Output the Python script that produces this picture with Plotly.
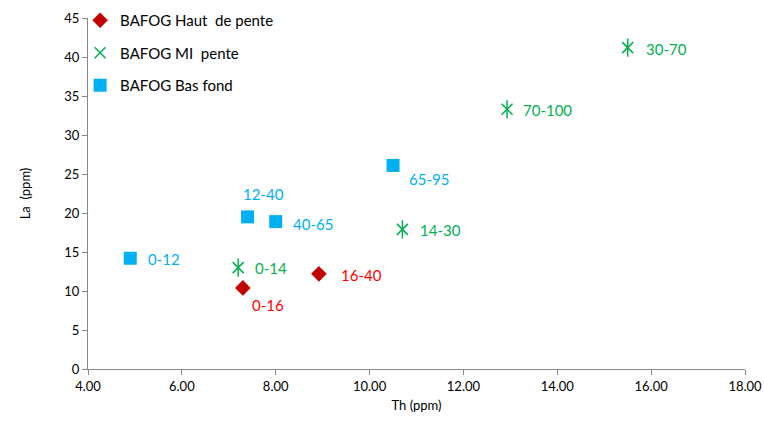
import plotly.graph_objects as go

# Th / La concentrations (ppm) per sampling depth interval (cm)
haut_th = [7.30, 8.92]
haut_la = [10.4, 12.2]
haut_lbl = ["0-16", "16-40"]

mi_th = [7.20, 10.70, 12.93, 15.50]
mi_la = [13.0, 17.9, 33.3, 41.2]
mi_lbl = ["0-14", "14-30", "70-100", "30-70"]

bas_th = [4.90, 7.40, 8.00, 10.50]
bas_la = [14.2, 19.5, 18.9, 26.1]
bas_lbl = ["0-12", "12-40", "40-65", "65-95"]

x_ticks = [4, 6, 8, 10, 12, 14, 16, 18]
y_ticks = [0, 5, 10, 15, 20, 25, 30, 35, 40, 45]

RED_DARK = "#C00000"
RED = "#FF0000"
GREEN = "#00B050"
BLUE = "#00B0F0"
FONT = "Lato, Open Sans, sans-serif"

fig = go.Figure()

fig.add_trace(go.Scatter(
    x=haut_th, y=haut_la, mode="markers", name="BAFOG Haut  de pente",
    legendgroup="a",
    marker=dict(symbol="diamond", size=12, color=RED_DARK),
))
fig.add_trace(go.Scatter(
    x=mi_th, y=mi_la, mode="markers", name="BAFOG MI  pente",
    legendgroup="b",
    marker=dict(symbol="x-thin-open", size=11, color=GREEN,
                line=dict(width=1.5, color=GREEN)),
))
fig.add_trace(go.Scatter(
    x=mi_th, y=mi_la, mode="markers", showlegend=False,
    legendgroup="b", hoverinfo="skip",
    marker=dict(symbol="line-ns-open", size=13, color=GREEN,
                line=dict(width=1.5, color=GREEN)),
))
fig.add_trace(go.Scatter(
    x=bas_th, y=bas_la, mode="markers", name="BAFOG Bas fond",
    legendgroup="c",
    marker=dict(symbol="square", size=13, color=BLUE),
))

# label offsets in pixels: (xshift, yshift, xanchor)
def add_labels(xs, ys, labels, color, offsets):
    for x, y, t, (dx, dy, anchor) in zip(xs, ys, labels, offsets):
        fig.add_annotation(
            x=x, y=y, text=t, showarrow=False, xanchor=anchor, yanchor="middle",
            xshift=dx, yshift=dy, font=dict(family=FONT, size=15, color=color),
        )

add_labels(haut_th, haut_la, haut_lbl, RED,
           [(25, -17, "center"), (20, -1, "left")])
add_labels(mi_th, mi_la, mi_lbl, GREEN,
           [(15, 0, "left"), (16, -1, "left"), (14, -1, "left"), (16, -1, "left")])
add_labels(bas_th, bas_la, bas_lbl, BLUE,
           [(16, -1, "left"), (16, 23, "center"), (15, -2, "left"), (14, -14, "left")])

axis_common = dict(
    showgrid=False, zeroline=False, showline=True, linecolor="#868686",
    linewidth=1, ticks="outside", tickcolor="#868686", ticklen=5,
    automargin=False,
    tickfont=dict(family=FONT, size=13, color="#000000"),
)

fig.update_layout(
    width=764, height=427,
    margin=dict(l=88, r=19, t=18, b=58, autoexpand=False),
    plot_bgcolor="white", paper_bgcolor="white",
    font=dict(family=FONT, size=13, color="#000000"),
    xaxis=dict(range=[4, 18], tickvals=x_ticks, tickformat=".2f",
               title=dict(text="Th (ppm)", standoff=8,
                          font=dict(family=FONT, size=13)),
               **axis_common),
    yaxis=dict(range=[0, 45], tickvals=y_ticks,
               title=dict(text="La  (ppm)", standoff=30,
                          font=dict(family=FONT, size=13)),
               **axis_common),
    legend=dict(x=-0.012, y=1.04, xanchor="left", yanchor="top",
                bgcolor="rgba(0,0,0,0)", tracegroupgap=10,
                font=dict(family=FONT, size=15, color="#000000"),
                itemwidth=30),
    showlegend=True,
)

fig.write_html("out.html")
